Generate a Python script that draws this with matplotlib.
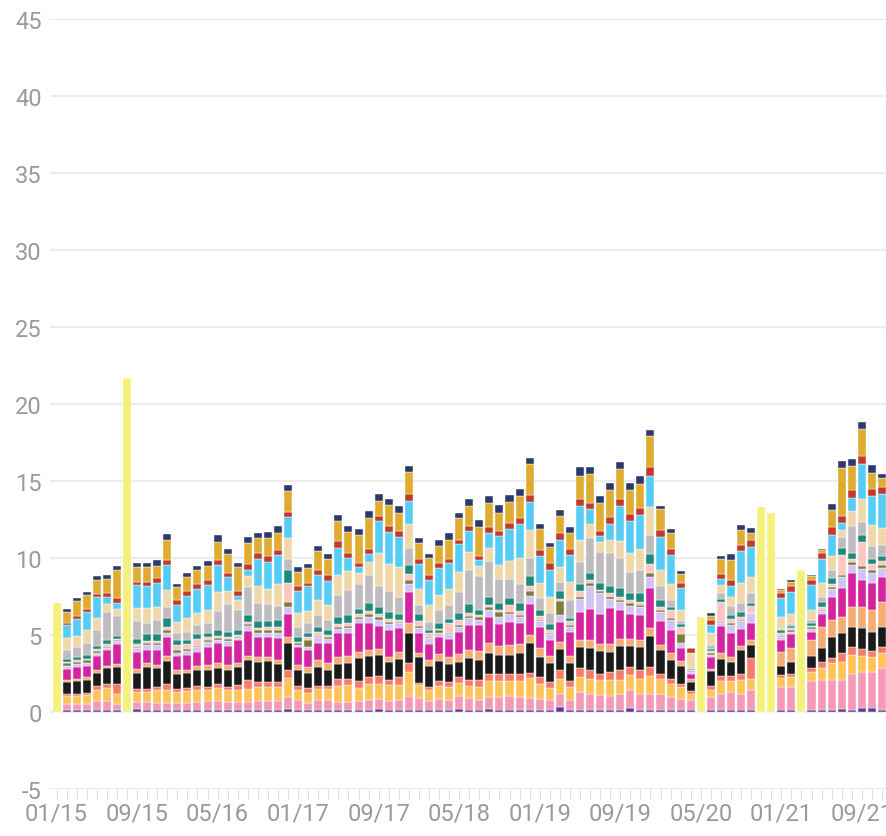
import matplotlib
matplotlib.use("Agg")
import matplotlib.pyplot as plt
import numpy as np
import pandas as pd

plt.rcParams['font.family'] = ['Roboto', 'DejaVu Sans']
plt.rcParams['axes.unicode_minus'] = False

# months 01/2015 .. 11/2021
months = pd.date_range("2015-01-01", periods=83, freq="MS")
month_labels = [m.strftime("%m/%y") for m in months]

# months that only have a total (yellow bars)
total_idx = [0, 7, 64, 70, 71, 74]
total_vals = [7.1, 21.7, 6.2, 13.3, 12.9, 9.2]

# stacked series, bottom -> top
purple = [0, .1, .1, .1, .1, .1, .1, 0, .2, .15,
          .1, .1, .1, .1, .1, .1, .1, .1, .1, .1,
          .1, .1, .1, .2, .15, .1, .1, .1, .1, .1,
          .1, .1, .2, .1, .1, .15, .15, .1, .1, .1,
          .2, .15, .15, .2, .15, .15, .15, .15, .15, .1,
          .35, .15, .15, .15, .15, .15, .15, .25, .15, .15,
          .15, .1, .1, .1, 0, .1, .1, .15, .1, .15,
          0, 0, .1, .1, 0, .1, .1, .1, .2, .1,
          .25, .25, .1]
pink = [0, .45, .45, .45, .6, .6, .45, 0, .45, .5,
        .5, .5, .5, .5, .55, .6, .6, .55, .55, .55,
        .6, .6, .6, .8, .65, .5, .65, .65, .55, .55,
        .6, .7, .65, .6, .7, .9, .75, .6, .75, .7,
        .85, .75, .65, .8, .8, .9, .85, .75, .7, .65,
        .8, .65, 1.15, 1.0, .95, .9, 1.0, 1.15, 1.0, 1.0,
        1.0, .85, .75, .7, 0, .85, 1.05, 1.15, 1.1, 1.3,
        0, 0, 1.5, 1.5, 0, 1.9, 2.0, 2.0, 1.85, 2.35,
        2.35, 2.35, 2.75]
orange_yellow = [0, .5, .5, .55, .75, .85, .6, 0, .65, .65,
                 .8, .85, .7, .75, .8, .75, .85, .8, .75, .85,
                 .95, .9, .95, 1.2, .6, .65, .75, .75, 1.05, 1.1,
                 .85, 1.0, 1.0, 1.05, .95, 1.55, .85, .75, .85, .85,
                 .85, .8, .8, 1.0, 1.05, .95, 1.0, 1.3, .95, .8,
                 1.0, .85, .95, 1.0, .95, 1.0, .95, 1.0, 1.0, 1.2,
                 1.0, .9, .75, .4, 0, .5, .85, .7, .85, .7,
                 0, 0, .6, .65, 0, .6, .75, 1.05, 1.2, 1.25,
                 1.05, .95, .95]
salmon = [0, .15, .15, .15, .25, .3, .7, 0, .2, .2,
          .25, .35, .2, .2, .25, .2, .25, .2, .35, .55,
          .3, .35, .3, .5, .3, .3, .2, .2, .45, .4,
          .45, .5, .5, .3, .5, .55, .15, .2, .3, .3,
          .35, .35, .45, .5, .45, .5, .5, .35, .5, .4,
          .55, .35, .6, .55, .45, .55, .6, .55, .55, .6,
          .3, .3, .25, .15, 0, .25, .35, .35, .4, 1.35,
          0, 0, .2, .25, 0, .25, .4, .35, .55, .55,
          .45, .4, .4]
black = [0, .75, .8, .85, .85, 1.0, 1.05, 0, 1.05, 1.4,
         1.2, 1.5, 1.0, 1.0, 1.0, 1.1, 1.05, 1.1, 1.2, 1.35,
         1.3, 1.35, 1.15, 1.8, 1.05, 1.0, 1.25, 1.05, .95, 1.05,
         1.5, 1.35, 1.35, 1.2, 1.2, 2.0, 1.65, 1.35, 1.3, 1.15,
         1.0, 1.45, 1.3, 1.35, 1.25, 1.2, 1.3, 1.9, 1.3, 1.2,
         1.4, 1.2, 1.35, 1.45, 1.45, 1.3, 1.6, 1.35, 1.55, 2.0,
         1.55, 1.25, 1.15, .6, 0, .95, 1.1, .9, 1.6, .85,
         0, 0, .6, .75, 0, .8, .9, 1.35, 1.3, 1.3,
         1.35, 1.25, 1.35]
peach = [0, .15, .15, .15, .2, .15, .2, 0, .25, .25,
         .2, .35, .25, .2, .3, .3, .35, .3, .25, .25,
         .3, .3, .3, .4, .3, .35, .4, .45, .45, .45,
         .4, .4, .4, .35, .45, .65, .3, .4, .45, .45,
         .5, .5, .6, .6, .6, .65, .6, .55, .55, .5,
         .45, .45, .45, .5, .45, .5, .45, .45, .45, .5,
         .35, .4, .3, .2, 0, .15, .35, .3, .25, .35,
         0, 0, .9, .9, 0, 1.0, 1.35, 1.1, 1.1, 1.25,
         1.35, 1.45, 1.6]
magenta = [0, .7, .75, .75, .9, 1.0, 1.3, 0, 1.1, .9,
           .95, 1.2, .9, .95, .9, 1.2, 1.25, 1.25, 1.45, 1.6,
           1.3, 1.25, 1.4, 1.45, 1.15, 1.1, 1.15, 1.3, 1.55, 1.5,
           1.85, 1.75, 1.5, 1.75, 1.55, 2.0, 1.3, 1.0, 1.1, 1.2,
           1.45, 1.65, 1.7, 1.75, 1.4, 1.5, 1.35, 2.0, 1.4, 1.05,
           1.3, 1.55, 1.85, 2.05, 1.95, 2.35, 1.85, 1.6, 1.6, 2.6,
           1.55, 1.55, .85, .3, 0, .75, 1.8, 1.55, 1.1, 1.1,
           0, 0, .75, .9, 0, .55, .85, 1.55, 1.85, 2.2,
           1.75, 1.75, 1.6]
lavender = [0, .2, .2, .2, .2, .15, .2, 0, .25, .3,
            .35, .3, .2, .25, .3, .3, .2, .3, .15, .35,
            .3, .3, .35, .5, .15, .2, .35, .25, .3, .3,
            .3, .4, .35, .35, .3, .5, .3, .4, .3, .3,
            .3, .45, .35, .45, .45, .5, .4, .55, .35, .35,
            .45, .3, .85, 1.5, 1.35, .6, .55, .55, .5, .7,
            .6, .65, .35, .15, 0, .15, .15, .55, .5, .6,
            0, 0, .2, .15, 0, .2, .2, .5, .7, .55,
            .75, .65, .6]
olive = [0, .15, .15, .15, .1, .1, .05, 0, .1, .15,
         .15, .15, .15, .15, .1, .1, .15, .15, .1, .1,
         .15, .15, .15, .3, .1, .5, .1, .1, .15, .15,
         .1, .15, .2, .15, .1, .25, .15, .1, .15, .1,
         .15, .15, .15, .15, .35, .15, .15, .3, .1, .1,
         .9, .15, .15, .15, .15, .15, .15, .15, .15, .25,
         .15, .1, .55, .05, 0, .1, .1, .1, .1, .05,
         0, 0, .1, .1, 0, .1, .1, .1, .15, .2,
         .2, .2, .2]
light_pink = [0, .1, .1, .1, .15, .15, .1, 0, .15, .1,
              .1, .2, .35, .3, .45, .2, .15, .15, .1, .15,
              .15, .2, .2, 1.25, .1, .15, .25, .15, .15, .2,
              .2, .2, .2, .2, .15, .4, .3, .2, .1, .6,
              .3, .2, .15, .15, .15, .45, .25, .35, .25, .2,
              .15, .25, .35, .2, .1, .2, .2, .25, .2, .6,
              .2, .5, .5, .05, 0, .15, 1.3, .3, .2, .45,
              0, 0, .15, .15, 0, .1, .2, .2, 1.3, .2,
              1.55, .35, .25]
teal = [0, .2, .25, .25, .2, .3, .2, 0, .35, .45,
        .45, .6, .3, .25, .3, .3, .35, .3, .35, .45,
        .45, .4, .5, .8, .3, .3, .35, .35, .5, .5,
        .35, .5, .45, .45, .35, .6, .45, .25, .4, .3,
        .45, .55, .35, .5, .4, .45, .55, .6, .4, .35,
        .5, .2, .45, .5, .45, .45, .55, .45, .55, .65,
        .4, .2, .15, .1, 0, .15, .2, .25, .3, .2,
        0, 0, .2, .15, 0, .2, .3, .4, .45, .4,
        .45, .35, .3]
gray = [0, .55, .65, .8, 1.0, 1.8, 1.3, 0, 1.15, .75,
        .9, .75, .5, .55, .6, .6, 1.25, 1.8, 1.3, 1.8,
        1.15, 1.1, .9, .75, .65, .6, .75, .65, 1.4, 1.65,
        1.6, 1.85, 1.4, 1.35, 1.15, 1.1, .6, .5, .8, .9,
        1.4, 2.2, 2.2, 2.35, 1.6, 1.25, 1.2, 1.2, .75, .75,
        .6, 1.15, 1.45, 2.25, 2.0, 2.2, 1.95, 1.35, 1.55, 1.25,
        .9, .45, .2, .05, 0, .25, .4, .6, .55, .6,
        0, 0, .1, .1, 0, .15, .35, .55, .7, 1.7,
        .85, .8, .75]
wheat = [0, .8, .7, .8, .8, .5, .45, 0, .85, .95,
         .9, 1.1, .7, .9, .8, .9, 1.25, .85, .6, .75,
         1.15, 1.0, 1.4, 1.35, .95, .8, 1.0, .95, 1.3, 1.2,
         .75, .85, 2.1, 1.75, 1.9, 1.55, 1.05, 1.1, 1.0, 1.05,
         1.3, 1.2, .6, .85, .9, 1.15, 1.7, 1.8, .95, 1.05,
         .95, 1.2, 1.45, .9, .65, .85, 1.1, 1.2, 1.35, 1.8,
         1.05, 1.05, .75, .95, 0, .8, .5, .6, 1.3, 1.05,
         0, 0, .75, .65, 0, .7, .85, .85, .5, 1.0,
         1.45, 1.4, 1.1]
sky = [0, .85, 1.1, 1.2, 1.35, .5, .35, 0, 1.5, 1.45,
       1.55, 1.6, 1.1, 1.45, 1.55, 1.6, 1.75, .9, .3, .4,
       1.75, 1.75, 1.9, 1.35, 1.4, 1.6, 1.6, 1.55, 1.75, .85,
       .35, .5, 2.1, 2.1, 1.95, 1.5, 1.6, 1.65, 1.75, 1.65,
       1.8, 1.35, .45, 1.0, 1.9, 2.1, 2.2, 1.85, 1.8, 1.75,
       1.8, 1.75, 2.2, 1.0, .35, 1.0, 2.3, 2.1, 2.2, 2.05,
       2.15, 1.9, 1.4, .05, 0, .5, .4, .7, 2.1, 1.95,
       0, 0, 1.25, 1.45, 0, 1.6, 1.6, 1.4, .4, .85,
       2.3, 1.9, 2.2]
red = [0, .15, .2, .2, .2, .25, .35, 0, .2, .25,
       .3, .35, .3, .3, .3, .3, .35, .3, .3, .35,
       .35, .35, .35, .35, .3, .2, .35, .4, .45, .35,
       .3, .35, .3, .35, .4, .45, .35, .3, .3, .3,
       .3, .3, .25, .35, .3, .35, .4, .45, .4, .4,
       .4, .4, .4, .4, .35, .45, .4, .45, .45, .55,
       .45, .4, .3, .3, 0, .3, .3, .4, .4, .45,
       0, 0, .3, .35, 0, .35, .4, .5, .45, .5,
       .5, .45, .45]
gold = [0, .7, .95, .9, .9, .9, 1.8, 0, .95, .95,
        .8, 1.3, .85, .9, .9, .95, 1.15, 1.2, 1.55, 1.35,
        1.0, 1.2, 1.1, 1.35, .95, 1.0, 1.2, 1.05, 1.3, 1.35,
        1.8, 2.0, 1.0, 1.4, 1.15, 1.45, 1.05, 1.1, 1.1, 1.2,
        1.4, 1.35, 1.85, 1.55, 1.2, 1.4, 1.45, 2.0, 1.35, 1.05,
        1.1, 1.05, 1.55, 1.85, 1.8, 1.75, 1.95, 1.55, 1.55, 2.0,
        1.35, 1.0, .6, 0, 0, .3, 1.0, 1.25, .95, .5,
        0, 0, .2, .3, 0, .2, .15, 1.1, 3.15, 1.6,
        1.75, 1.0, .6]
navy = [0, .2, .2, .2, .25, .25, .3, 0, .3, .3,
        .4, .35, .2, .25, .3, .3, .45, .35, .3, .4,
        .35, .4, .45, .4, .3, .25, .35, .3, .4, .4,
        .4, .45, .45, .4, .5, .4, .3, .25, .45, .45,
        .35, .4, .5, .5, .5, .45, .45, .4, .3, .3,
        .4, .35, .55, .45, .45, .5, .5, .5, .5, .4,
        .25, .3, .2, 0, 0, .15, .2, .4, .35, .3,
        0, 0, .1, .15, 0, .1, .1, .4, .45, .4,
        .45, .55, .25]

series = [purple, pink, orange_yellow, salmon, black, peach, magenta, lavender,
          olive, light_pink, teal, gray, wheat, sky, red, gold, navy]
colors = ["#5b3b98", "#f59ab6", "#fec359", "#f77b67", "#1b1b1b", "#f3ad74",
          "#d5249f", "#d3c3f5", "#7e7c3c", "#fcc6c1", "#1e8a7c", "#bebcbe",
          "#f0d7a9", "#57cdf6", "#c13a2a", "#e0ab31", "#2b3a6c"]

fig = plt.figure(figsize=(8.87, 8.37), dpi=100)
ax = fig.add_axes([50 / 887, 47 / 837, 837 / 887, 770 / 837])

x = np.arange(len(months))
bottom = np.zeros(len(months))
for vals, c in zip(series, colors):
    vals = np.array(vals, dtype=float)
    ax.bar(x, vals, 0.8, bottom=bottom, color=c, edgecolor="white", linewidth=0.3)
    bottom += vals

ax.bar(total_idx, total_vals, 0.8, color="#f4f07a", edgecolor="white", linewidth=0.3)

# Formatting
ax.set_xlim(-0.65, 82.5)
ax.set_ylim(-5, 45)
ax.set_yticks(range(-5, 50, 5))
ax.yaxis.grid(True, color="#ececec", lw=1.6)
ax.set_axisbelow(True)
for s in ax.spines.values():
    s.set_visible(False)

ax.set_xticks(x)
ax.set_xticklabels([lab if i % 8 == 0 else "" for i, lab in enumerate(month_labels)])
ax.tick_params(axis="x", length=7, width=0.8, color="#dcdcdc", pad=2,
               labelsize=17, labelcolor="#9a9a9a")
ax.tick_params(axis="y", length=0, pad=6, labelsize=17, labelcolor="#9a9a9a")

fig.savefig("out.png", dpi=100)
